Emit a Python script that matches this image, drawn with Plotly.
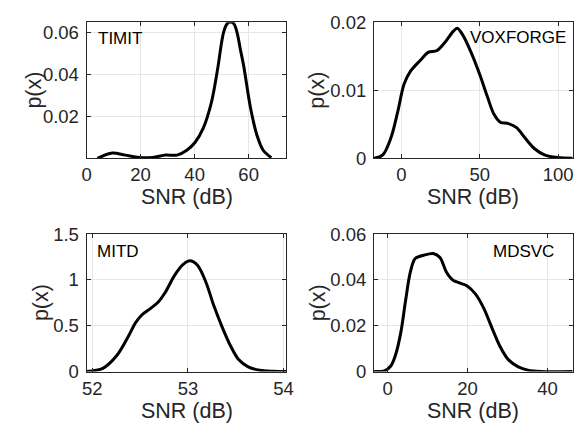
import plotly.graph_objects as go

# ---- data ----
timit_x = [4, 9.5, 14.3, 20.4, 24.5, 29.3, 33.5, 37.1, 40.2, 43.2, 46.2, 48.6, 50.0, 50.8, 51.8, 52.8, 53.6, 54.5, 55.3, 56.0, 56.8, 58.2, 60.6, 63.0, 65.4, 68.4]
timit_y = [0.0004, 0.0029, 0.0019, 0.0007, 0.0008, 0.0019, 0.0019, 0.0042, 0.008, 0.0147, 0.0268, 0.0434, 0.0555, 0.0605, 0.0638, 0.065, 0.065, 0.0643, 0.062, 0.0585, 0.053, 0.044, 0.025, 0.0117, 0.0042, 0.0007]

vox_x = [-17.5, -11.9, -6.7, -2.5, 1.7, 5.8, 12.1, 17.3, 22.5, 27.7, 32.9, 35.6, 39.2, 44.4, 50, 54.8, 59, 63.1, 68.3, 73.5, 78.8, 85, 91.3, 99.6, 109.3]
vox_y = [0.0, 0.0005, 0.003, 0.0067, 0.0109, 0.0128, 0.0144, 0.0156, 0.0158, 0.017, 0.0186, 0.0191, 0.0181, 0.0156, 0.0123, 0.0091, 0.0065, 0.0053, 0.0051, 0.0045, 0.003, 0.0014, 0.0005, 0.0001, 0.0]

mitd_x = [51.94, 52.11, 52.26, 52.38, 52.45, 52.52, 52.61, 52.69, 52.76, 52.86, 52.95, 53.02, 53.1, 53.19, 53.27, 53.36, 53.45, 53.53, 53.63, 53.75, 53.89, 54.03]
mitd_y = [0.0, 0.035, 0.18, 0.39, 0.53, 0.62, 0.69, 0.76, 0.86, 1.05, 1.17, 1.21, 1.16, 0.97, 0.72, 0.48, 0.27, 0.13, 0.05, 0.014, 0.003, 0.0]

mdsvc_x = [-3.4, -0.8, 0.8, 2.0, 3.3, 4.5, 5.7, 6.9, 9.0, 11.4, 13.1, 14.7, 16.3, 18.0, 20.0, 22.0, 24.1, 26.1, 28.2, 30.2, 32.7, 35.1, 38.4, 46.3]
mdsvc_y = [0.0, 0.0003, 0.0024, 0.0073, 0.017, 0.031, 0.0435, 0.0494, 0.0508, 0.0516, 0.0498, 0.0435, 0.04, 0.0387, 0.0373, 0.0338, 0.0275, 0.0191, 0.0107, 0.0052, 0.002, 0.0006, 0.0, 0.0]

names = ["TIMIT", "VOXFORGE", "MITD", "MDSVC"]

x_ranges = [[0, 74], [-17.5, 109.3], [51.94, 54.03], [-3.4, 46.3]]
y_ranges = [[0.0004, 0.065], [0, 0.02], [0, 1.5], [0, 0.06]]
x_ticks = [[0, 20, 40, 60], [0, 50, 100], [52, 53, 54], [0, 20, 40]]
y_ticks = [[0.02, 0.04, 0.06], [0, 0.01, 0.02], [0, 0.5, 1, 1.5], [0, 0.02, 0.04, 0.06]]
y_ticktext = [["0.02", "0.04", "0.06"], ["0", "0.01", "0.02"], ["0", "0.5", "1", "1.5"], ["0", "0.02", "0.04", "0.06"]]
x_label = "SNR (dB)"
y_label = "p(x)"

W, H = 588, 437
FONT = "Liberation Sans, Arial, Helvetica, sans-serif"
TXT = "#262626"

# axes boxes in pixels: (left, right, top, bottom)
boxes = [(83.3, 287.3, 11.7, 154.7), (376.7, 579.5, 11.7, 154.7),
         (83.3, 287.3, 234.5, 378.7), (376.7, 579.5, 234.5, 378.7)]
ylabel_x = [30, 319, 37, 319]
name_pos = [(92.7, 29, "left"), (575, 27.5, "right"), (91.7, 252.3, "left"), (562, 253, "right")]

series = [(timit_x, timit_y), (vox_x, vox_y), (mitd_x, mitd_y), (mdsvc_x, mdsvc_y)]

fig = go.Figure()
annotations = []
layout = dict(width=W, height=H, margin=dict(l=0, r=0, t=0, b=0),
              paper_bgcolor="white", plot_bgcolor="white", showlegend=False,
              font=dict(family=FONT, color=TXT, size=18.5))

for i, ((xs, ys), (l, r, t, b)) in enumerate(zip(series, boxes)):
    k = "" if i == 0 else str(i + 1)
    fig.add_trace(go.Scatter(x=xs, y=ys, mode="lines",
                             line=dict(color="black", width=3, shape="spline", smoothing=0.9),
                             xaxis="x" + k, yaxis="y" + k, hoverinfo="skip"))
    common = dict(showline=True, linecolor=TXT, linewidth=1, mirror="ticks",
                  ticks="inside", ticklen=4, tickcolor=TXT,
                  showgrid=True, gridcolor="#e6e6e6", gridwidth=1, zeroline=False,
                  tickfont=dict(family=FONT, size=18.5, color=TXT), fixedrange=True)
    layout["xaxis" + k] = dict(common, domain=[l / W, r / W], range=x_ranges[i],
                               tickvals=x_ticks[i], anchor="y" + k)
    layout["yaxis" + k] = dict(common, domain=[1 - b / H, 1 - t / H], range=y_ranges[i],
                               tickvals=y_ticks[i], ticktext=y_ticktext[i], anchor="x" + k,
                               ticklabelstandoff=3)
    # x label
    annotations.append(dict(text=x_label, x=((l + r) / 2) / W, y=1 - (b + 41) / H,
                            xref="paper", yref="paper", showarrow=False, borderpad=0,
                            xanchor="center", yanchor="middle",
                            font=dict(family=FONT, size=21.5, color=TXT)))
    # y label
    annotations.append(dict(text=y_label, x=ylabel_x[i] / W, y=1 - ((t + b) / 2) / H,
                            xref="paper", yref="paper", showarrow=False, textangle=-90,
                            borderpad=0, xanchor="center", yanchor="middle",
                            font=dict(family=FONT, size=21.5, color=TXT)))
    nx, ny, anc = name_pos[i]
    annotations.append(dict(text=names[i], x=nx / W, y=1 - ny / H,
                            xref="paper", yref="paper", showarrow=False,
                            xanchor=anc, yanchor="middle",
                            font=dict(family=FONT, size=17, color="black")))

layout["annotations"] = annotations
fig.update_layout(**layout)
fig.write_html("out.html")
